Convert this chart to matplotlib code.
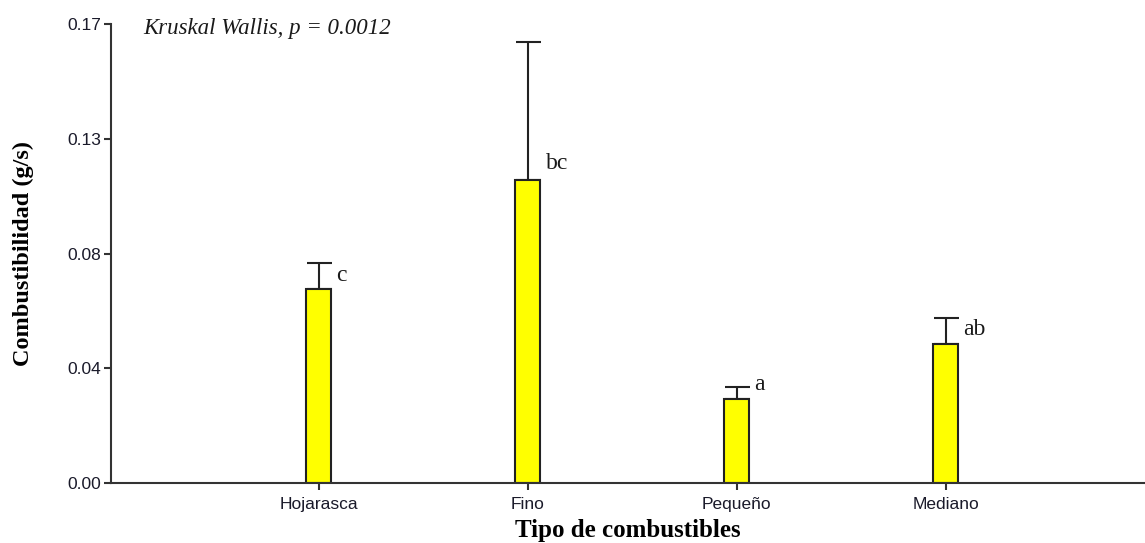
import matplotlib
matplotlib.use("Agg")
import matplotlib.pyplot as plt

categories = ["Hojarasca", "Fino", "Pequeño", "Mediano"]
means = [0.0719, 0.1122, 0.0311, 0.0515]
errors = [0.0096, 0.0511, 0.0045, 0.0096]
letters = ["c", "bc", "a", "ab"]
letter_y = [0.0770, 0.1185, 0.0365, 0.0570]
yticks = [0.0, 0.0425, 0.085, 0.1275, 0.17]
ytick_labels = ["0.00", "0.04", "0.08", "0.13", "0.17"]

fig = plt.figure(figsize=(11.45, 5.43), dpi=100)
ax = fig.add_axes([111/1145, 60/543, 1 - 111/1145, (483-24)/543])

x = list(range(len(categories)))
ax.bar(x, means, width=0.12, color="#FFFF00", edgecolor="#222222", linewidth=1.5, zorder=2)
ax.errorbar(x, means, yerr=[[0]*len(errors), errors], fmt="none", ecolor="#222222",
            elinewidth=1.5, capsize=9, capthick=1.5, zorder=1)

for xi, lab, ly in zip(x, letters, letter_y):
    ax.text(xi + 0.085, ly, lab, ha="left", va="center", fontsize=17,
            family="Liberation Serif", color="#1a1a1a")

ax.text(-0.84, 0.1685, "Kruskal Wallis, p = 0.0012", ha="left", va="center",
        fontsize=16.5, family="Liberation Serif", style="italic", color="#1a1a1a")

ax.set_xlim(-0.995, 3.955)
ax.set_ylim(0, 0.17)
ax.set_xticks(x)
ax.set_xticklabels(categories, family="Liberation Sans", fontsize=12.5)
ax.set_yticks(yticks)
ax.set_yticklabels(ytick_labels, family="Liberation Sans", fontsize=12.5)

for s in ["top", "right"]:
    ax.spines[s].set_visible(False)
for s in ["left", "bottom"]:
    ax.spines[s].set_color("#333333")
    ax.spines[s].set_linewidth(1.5)
ax.tick_params(axis="both", direction="out", length=5, width=1.5, color="#333333",
               labelcolor="#1a1a2a")
ax.tick_params(axis="x", pad=5)
ax.tick_params(axis="y", pad=2)

ax.set_xlabel("Tipo de combustibles", family="Liberation Serif", fontweight="bold",
              fontsize=18, labelpad=5)
ax.set_ylabel("Combustibilidad (g/s)", family="Liberation Serif", fontweight="bold",
              fontsize=17.5, labelpad=24)

fig.savefig("out.png", dpi=100)
